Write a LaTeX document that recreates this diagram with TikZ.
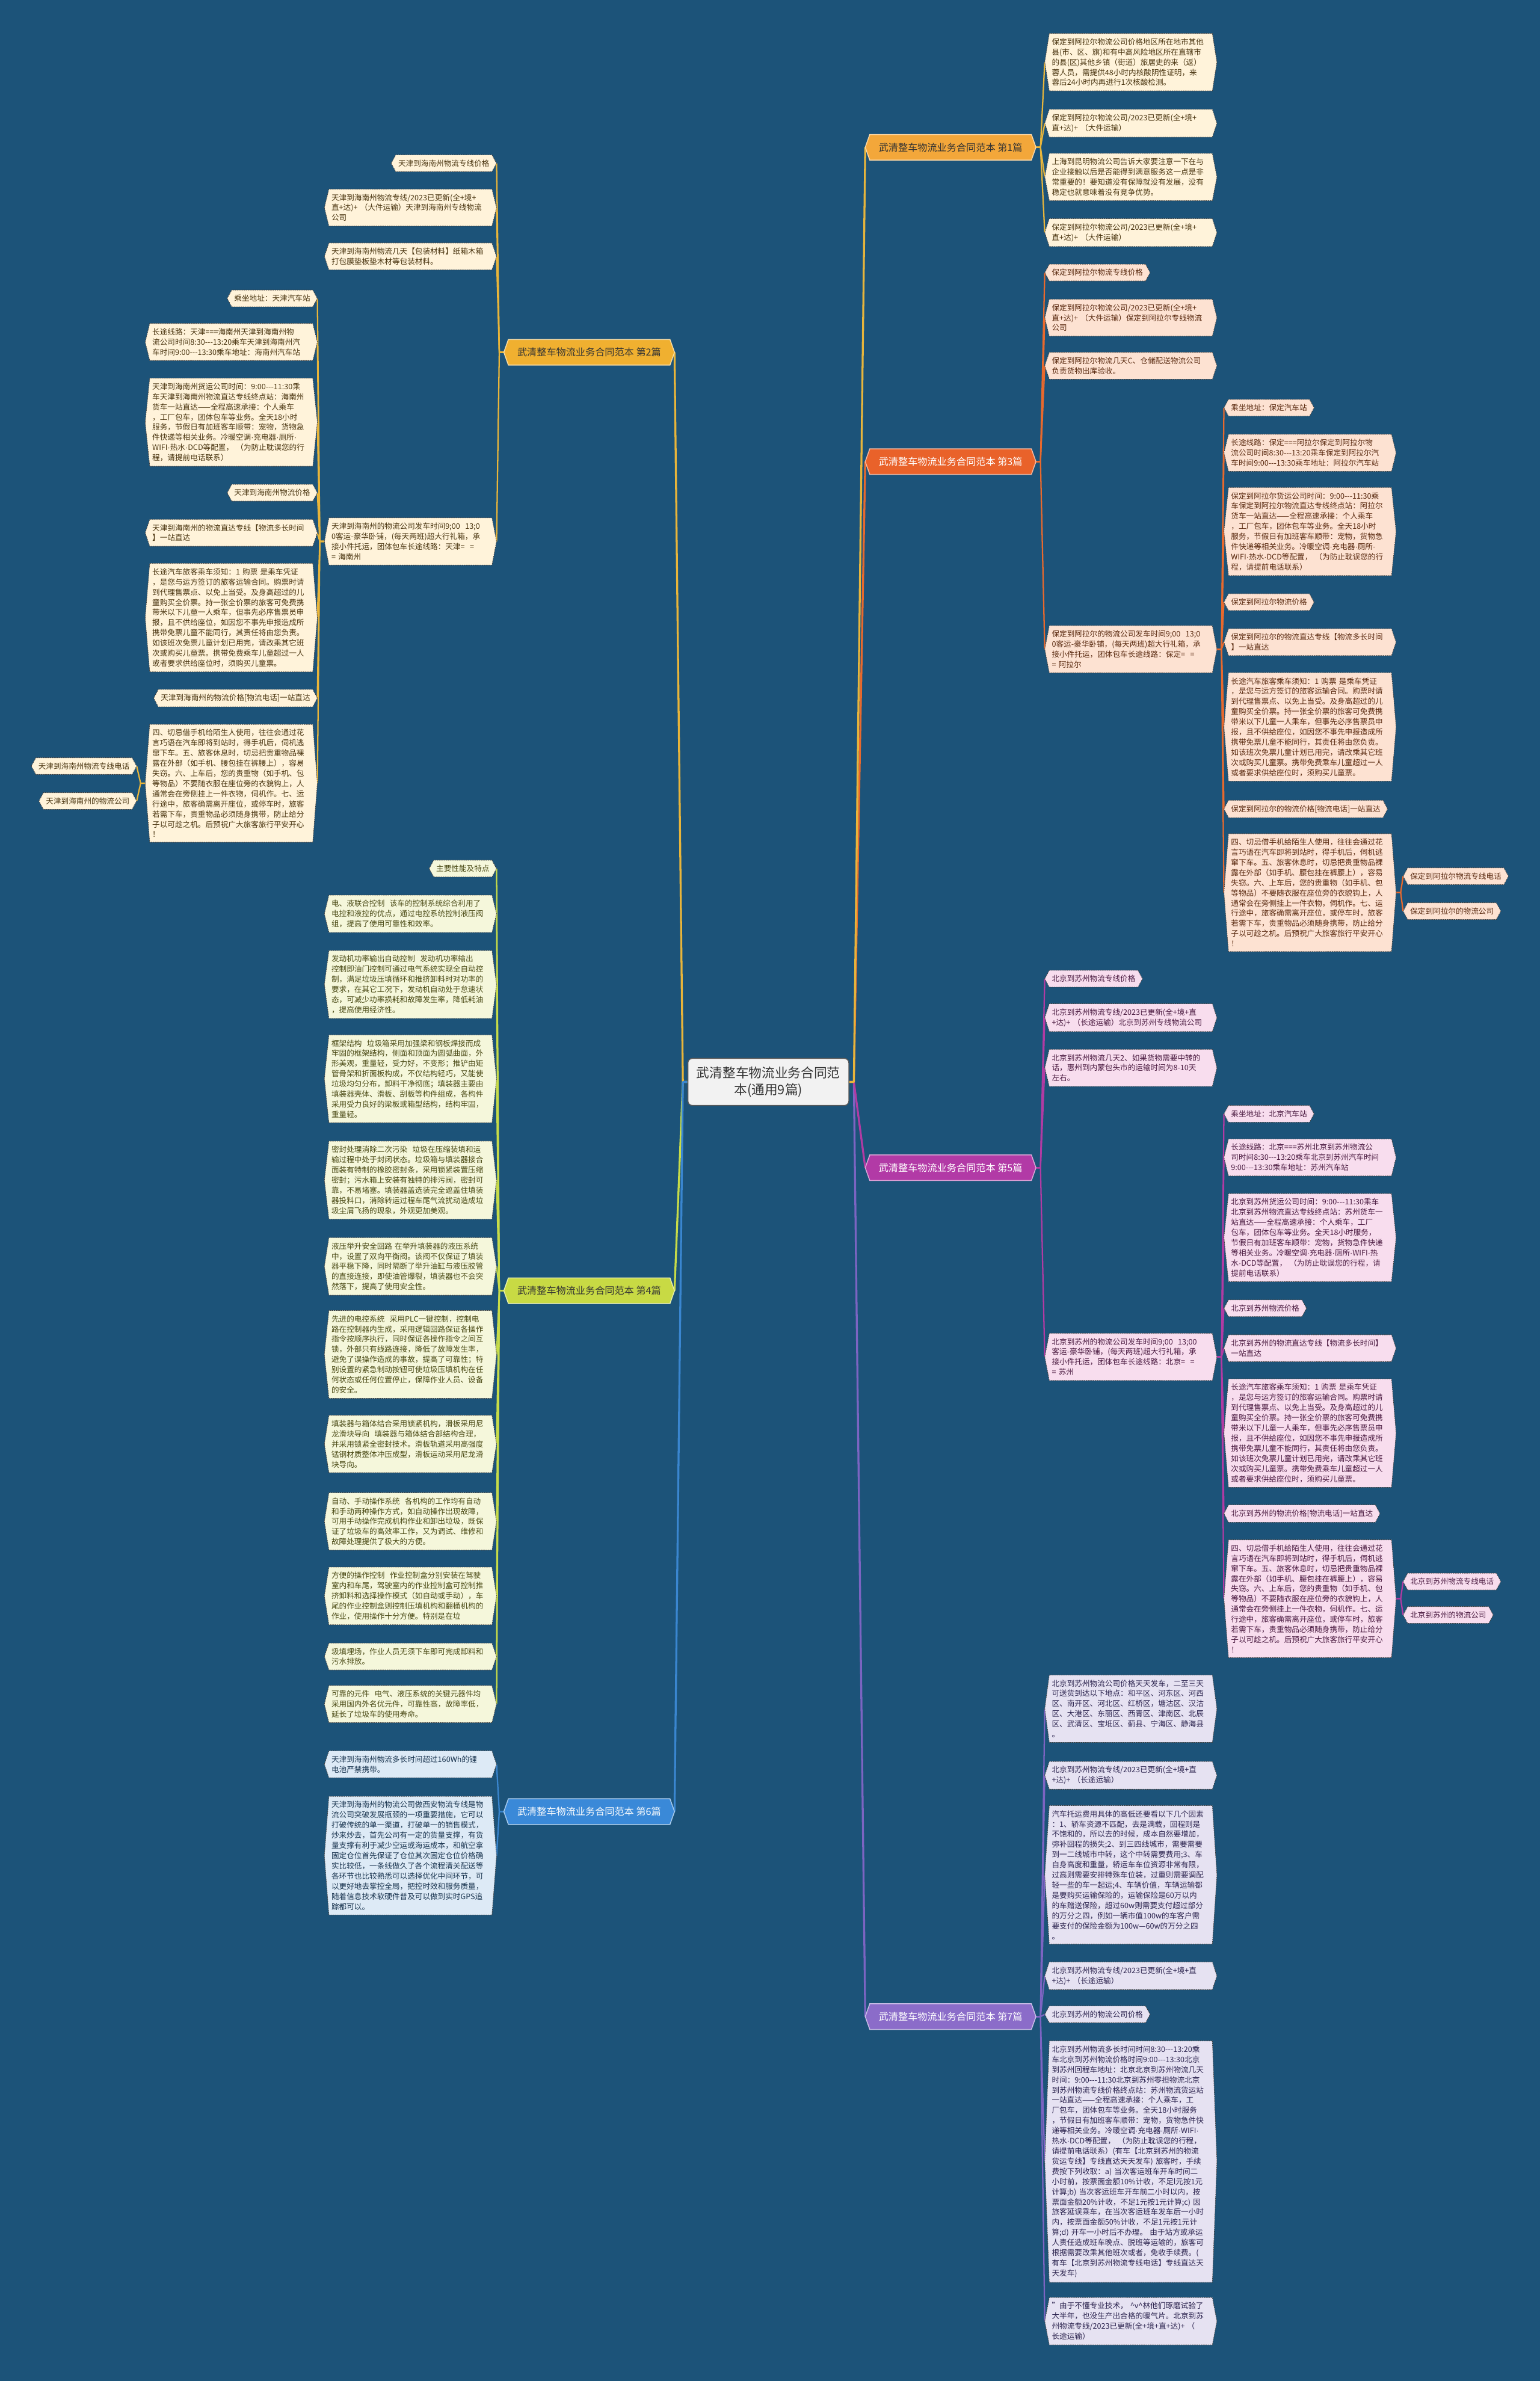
\documentclass[tikz,border=0pt]{standalone}
\usepackage{fontspec}
\setmainfont{Noto Sans CJK SC}
\newfontfamily\lat{Liberation Sans}
\usetikzlibrary{calc}
\pgfdeclarelayer{back}
\pgfdeclarelayer{bg}
\pgfdeclarelayer{box}
\pgfsetlayers{back,bg,box,main}
\hbadness=10000 \hfuzz=50pt
\definecolor{bgc}{HTML}{1C5379}
\definecolor{br1}{HTML}{F3A73A}\definecolor{br2}{HTML}{F0B030}\definecolor{br3}{HTML}{E9622A}
\definecolor{br4}{HTML}{C8DA44}\definecolor{br5}{HTML}{B23AA6}\definecolor{br6}{HTML}{3A89D8}\definecolor{br7}{HTML}{8B6CC9}
\definecolor{ln1}{HTML}{E7B53C}\definecolor{ln2}{HTML}{E9B53A}\definecolor{ln3}{HTML}{E8692D}
\definecolor{ln4}{HTML}{C8DC48}\definecolor{ln5}{HTML}{B13BA3}\definecolor{ln6}{HTML}{3A86D0}\definecolor{ln7}{HTML}{7C64C2}
\definecolor{f1}{HTML}{FFF3DA}\definecolor{f2}{HTML}{FFF3DA}\definecolor{f3}{HTML}{FDE2D2}
\definecolor{f4}{HTML}{F5F7DB}\definecolor{f5}{HTML}{F8DDEE}\definecolor{f6}{HTML}{DDEAF6}\definecolor{f7}{HTML}{E6E2F2}
\definecolor{t1}{HTML}{4A3510}\definecolor{t2}{HTML}{4A3510}\definecolor{t3}{HTML}{5A2A10}
\definecolor{t4}{HTML}{4A4A15}\definecolor{t5}{HTML}{4A1A40}\definecolor{t6}{HTML}{1A3550}\definecolor{t7}{HTML}{2D2550}
\newcommand\dd{-{}-{}-}
\newcommand\md{{\lat ·}}
\newcommand\hexp[2]{([xshift=-#2]#1.west) -- (#1.north west) -- (#1.north east) -- ([xshift=#2]#1.east) -- (#1.south east) -- (#1.south west) -- cycle}
\def\cf{f1}
\tikzset{
  lf/.style={font=\fontsize{5}{6.7}\selectfont, inner xsep=1.5pt, inner ysep=3pt, align=left},
  wd/.style={text width=104pt},
  L/.style={anchor=north east},
  R/.style={anchor=north west},
  tc/.style={text=t1},
  bd/.style={draw=black!75, line width=0.35pt, dash pattern=on 0.7pt off 0.5pt},
  bn/.style={font=\fontsize{6.4}{8}\selectfont, minimum width=106pt, minimum height=16.5pt, inner xsep=2pt, inner ysep=2pt, align=center},
  cnode/.style={font=\fontsize{8.6}{11}\selectfont, fill=white!95!black, draw=black!65, line width=0.6pt, rounded corners=3pt, text width=100pt, align=center, minimum height=31pt, inner sep=3pt, text=black!80},
}
\newcommand\leaf[4]{%
  \node[lf,tc,#1] (#2) at (#3) {#4};
  \begin{pgfonlayer}{box}\path[fill=\cf,bd] \hexp{#2}{3pt};\end{pgfonlayer}}
\newcommand\bnode[5]{%
  \node[bn,text=#4] (#1) at (#2) {#5};
  \begin{pgfonlayer}{box}\path[fill=#3,draw=white!55!#3,line width=0.6pt] \hexp{#1}{3pt};\end{pgfonlayer}}
\newcommand\conL[3]{\begin{pgfonlayer}{bg}\draw[#3,line width=0.9pt,line join=round] ([xshift=-3pt]#1.west) -- ++(-3pt,0) -- ([xshift=3pt]#2.east);\end{pgfonlayer}}
\newcommand\conR[3]{\begin{pgfonlayer}{bg}\draw[#3,line width=0.9pt,line join=round] ([xshift=3pt]#1.east) -- ++(3pt,0) -- ([xshift=-3pt]#2.west);\end{pgfonlayer}}
\newcommand\XZ{长途汽车旅客乘车须知：1~购票~是乘车凭证\\，是您与运方签订的旅客运输合同。购票时请\\到代理售票点、以免上当受。及身高超过的儿\\童购买全价票。持一张全价票的旅客可免费携\\带米以下儿童一人乘车，但事先必序售票员申\\报，且不供给座位，如因您不事先申报造成所\\携带免票儿童不能同行，其责任将由您负责。\\如该班次免票儿童计划已用完，请改乘其它班\\次或购买儿童票。携带免费乘车儿童超过一人\\或者要求供给座位时，须购买儿童票。}
\newcommand\QJ{四、切忌借手机给陌生人使用，往往会通过花\\言巧语在汽车即将到站时，得手机后，伺机逃\\窜下车。五、旅客休息时，切忌把贵重物品裸\\露在外部（如手机、腰包挂在裤腰上），容易\\失窃。六、上车后，您的贵重物（如手机、包\\等物品）不要随衣服在座位旁的衣貌钩上，人\\通常会在旁侧挂上一件衣物，伺机作。七、运\\行途中，旅客确需离开座位，或停车时，旅客\\若需下车，贵重物品必须随身携带，防止给分\\子以可趁之机。后预祝广大旅客旅行平安开心\\！}
\begin{document}
\begin{tikzpicture}[x=1pt,y=-1pt]
\begin{pgfonlayer}{back}
\fill[bgc] (0,0) rectangle (1014,1568);
\end{pgfonlayer}
\useasboundingbox (0,0) rectangle (1014,1568);
% center
\node[cnode] (c) at (506,712.5) {武清整车物流业务合同范\\本(通用9篇)};
% branch nodes
\bnode{n1}{626,97}{br1}{black!80}{武清整车物流业务合同范本~第1篇}
\bnode{n3}{626,304}{br3}{white}{武清整车物流业务合同范本~第3篇}
\bnode{n5}{626,769}{br5}{white}{武清整车物流业务合同范本~第5篇}
\bnode{n7}{626,1328}{br7}{white}{武清整车物流业务合同范本~第7篇}
\bnode{n2}{388,232}{br2}{black!80}{武清整车物流业务合同范本~第2篇}
\bnode{n4}{388,850}{br4}{black!80}{武清整车物流业务合同范本~第4篇}
\bnode{n6}{388,1193}{br6}{white}{武清整车物流业务合同范本~第6篇}
\begin{pgfonlayer}{bg}
\foreach \n/\col in {n2/ln2,n4/ln4,n6/ln6}{\draw[\col,line width=1.3pt,line join=round] (c.west) -- ++(-3pt,0) -- ([xshift=3pt]\n.east);}
\foreach \n/\col in {n7/ln7,n5/ln5,n3/ln3,n1/ln1}{\draw[\col,line width=1.3pt,line join=round] (c.east) -- ++(3pt,0) -- ([xshift=-3pt]\n.west);}
\end{pgfonlayer}
% ===== branch 1 =====
\def\cf{f1}\tikzset{tc/.style={text=t1}}
\leaf{R,wd}{l1a}{691,22}{保定到阿拉尔物流公司价格地区所在地市其他\\县(市、区、旗)和有中高风险地区所在直辖市\\的县(区)其他乡镇（街道）旅居史的来（返）\\蓉人员，需提供48小时内核酸阴性证明，来\\蓉后24小时内再进行1次核酸检测。}
\leaf{R,wd}{l1b}{691,72}{保定到阿拉尔物流公司/2023已更新(全+境+\\直+达)+~（大件运输）}
\leaf{R,wd}{l1c}{691,101}{上海到昆明物流公司告诉大家要注意一下在与\\企业接触以后是否能得到满意服务这一点是非\\常重要的！要知道没有保障就没有发展，没有\\稳定也就意味着没有竞争优势。}
\leaf{R,wd}{l1d}{691,144}{保定到阿拉尔物流公司/2023已更新(全+境+\\直+达)+~（大件运输）}
\foreach \k in {l1a,l1b,l1c,l1d}{\conR{n1}{\k}{ln1}}
% ===== branch 3 =====
\def\cf{f3}\tikzset{tc/.style={text=t3}}
\leaf{R}{f1n}{691,174}{保定到阿拉尔物流专线价格}
\leaf{R,wd}{f2n}{691,197}{保定到阿拉尔物流公司/2023已更新(全+境+\\直+达)+~（大件运输）保定到阿拉尔专线物流\\公司}
\leaf{R,wd}{f3n}{691,232}{保定到阿拉尔物流几天C、仓储配送物流公司\\负责货物出库验收。}
\leaf{R,wd}{f4n}{691,412}{保定到阿拉尔的物流公司发车时间9;00~~13;0\\0客运-豪华卧铺，(每天两班)超大行礼箱，承\\接小件托运，团体包车长途线路：保定=~~=\\=~阿拉尔}
\foreach \k in {f1n,f2n,f3n,f4n}{\conR{n3}{\k}{ln3}}
\leaf{R}{g1}{809,263}{乘坐地址：保定汽车站}
\leaf{R,wd}{g2}{809,286}{长途线路：保定===阿拉尔保定到阿拉尔物\\流公司时间8:30\dd13:20乘车保定到阿拉尔汽\\车时间9:00\dd13:30乘车地址：阿拉尔汽车站}
\leaf{R,wd}{g3}{809,321}{保定到阿拉尔货运公司时间：9:00\dd11:30乘\\车保定到阿拉尔物流直达专线终点站：阿拉尔\\货车一站直达——全程高速承接：个人乘车\\，工厂包车，团体包车等业务。全天18小时\\服务，节假日有加班客车顺带：宠物，货物急\\件快递等相关业务。冷暖空调\md{}充电器\md{}厕所\md{}\\WIFI\md{}热水\md{}DCD等配置，~（为防止耽误您的行\\程，请提前电话联系）}
\leaf{R}{g4}{809,391}{保定到阿拉尔物流价格}
\leaf{R,wd}{g5}{809,414}{保定到阿拉尔的物流直达专线【物流多长时间\\】一站直达}
\leaf{R,wd}{g6}{809,443}{\XZ}
\leaf{R}{g7}{809,527}{保定到阿拉尔的物流价格[物流电话]一站直达}
\leaf{R,wd}{g8}{809,549}{\QJ}
\foreach \k in {g1,g2,g3,g4,g5,g6,g7,g8}{\conR{f4n}{\k}{ln3}}
\leaf{R}{h1}{927,571.5}{保定到阿拉尔物流专线电话}
\leaf{R}{h2}{927,594.5}{保定到阿拉尔的物流公司}
\foreach \k in {h1,h2}{\conR{g8}{\k}{ln3}}
% ===== branch 5 =====
\def\cf{f5}\tikzset{tc/.style={text=t5}}
\leaf{R}{i1}{691,639}{北京到苏州物流专线价格}
\leaf{R,wd}{i2}{691,661}{北京到苏州物流专线/2023已更新(全+境+直\\+达)+~（长途运输）北京到苏州专线物流公司}
\leaf{R,wd}{i3}{691,691}{北京到苏州物流几天2、如果货物需要中转的\\话，惠州到内蒙包头市的运输时间为8-10天\\左右。}
\leaf{R,wd}{i4}{691,878}{北京到苏州的物流公司发车时间9;00~~13;00\\客运-豪华卧铺，(每天两班)超大行礼箱，承\\接小件托运，团体包车长途线路：北京=~~=\\=~苏州}
\foreach \k in {i1,i2,i3,i4}{\conR{n5}{\k}{ln5}}
\leaf{R}{j1}{809,728}{乘坐地址：北京汽车站}
\leaf{R,wd}{j2}{809,750}{长途线路：北京===苏州北京到苏州物流公\\司时间8:30\dd13:20乘车北京到苏州汽车时间\\9:00\dd13:30乘车地址：苏州汽车站}
\leaf{R,wd}{j3}{809,786}{北京到苏州货运公司时间：9:00\dd11:30乘车\\北京到苏州物流直达专线终点站：苏州货车一\\站直达——全程高速承接：个人乘车，工厂\\包车，团体包车等业务。全天18小时服务，\\节假日有加班客车顺带：宠物，货物急件快递\\等相关业务。冷暖空调\md{}充电器\md{}厕所\md{}WIFI\md{}热\\水\md{}DCD等配置，~（为防止耽误您的行程，请\\提前电话联系）}
\leaf{R}{j4}{809,856}{北京到苏州物流价格}
\leaf{R,wd}{j5}{809,879}{北京到苏州的物流直达专线【物流多长时间】\\一站直达}
\leaf{R,wd}{j6}{809,908}{\XZ}
\leaf{R}{j7}{809,991}{北京到苏州的物流价格[物流电话]一站直达}
\leaf{R,wd}{j8}{809,1014}{\QJ}
\foreach \k in {j1,j2,j3,j4,j5,j6,j7,j8}{\conR{i4}{\k}{ln5}}
\leaf{R}{k1}{927,1036}{北京到苏州物流专线电话}
\leaf{R}{k2}{927,1058}{北京到苏州的物流公司}
\foreach \k in {k1,k2}{\conR{j8}{\k}{ln5}}
% ===== branch 7 =====
\def\cf{f7}\tikzset{tc/.style={text=t7}}
\leaf{R,wd}{m1}{691,1103}{北京到苏州物流公司价格天天发车，二至三天\\可送货到达以下地点：和平区、河东区、河西\\区、南开区、河北区、红桥区，塘沽区、汉沽\\区、大港区、东丽区、西青区、津南区、北辰\\区、武清区、宝坻区、蓟县、宁海区、静海县\\。}
\leaf{R,wd}{m2}{691,1160}{北京到苏州物流专线/2023已更新(全+境+直\\+达)+~（长途运输）}
\leaf{R,wd}{m3}{691,1189}{汽车托运费用具体的高低还要看以下几个因素\\：1、轿车资源不匹配，去是满载，回程则是\\不饱和的，所以去的时候，成本自然要增加，\\弥补回程的损失;2、到三四线城市，需要需要\\到一二线城市中转，这个中转需要费用;3、车\\自身高度和重量，轿运车车位资源非常有限，\\过高则需要安排特殊车位装，过重则需要调配\\轻一些的车一起运;4、车辆价值，车辆运输都\\是要购买运输保险的，运输保险是60万以内\\的车赠送保险，超过60w则需要支付超过部分\\的万分之四，例如一辆市值100w的车客户需\\要支付的保险金额为100w—60w的万分之四\\。}
\leaf{R,wd}{m4}{691,1292}{北京到苏州物流专线/2023已更新(全+境+直\\+达)+~（长途运输）}
\leaf{R}{m5}{691,1321}{北京到苏州的物流公司价格}
\leaf{R,wd}{m6}{691,1344}{北京到苏州物流多长时间时间8:30\dd13:20乘\\车北京到苏州物流价格时间9:00\dd13:30北京\\到苏州回程车地址：北京北京到苏州物流几天\\时间：9:00\dd11:30北京到苏州零担物流北京\\到苏州物流专线价格终点站：苏州物流货运站\\一站直达——全程高速承接：个人乘车，工\\厂包车，团体包车等业务。全天18小时服务\\，节假日有加班客车顺带：宠物，货物急件快\\递等相关业务。冷暖空调\md{}充电器\md{}厕所\md{}WIFI\md{}\\热水\md{}DCD等配置，~（为防止耽误您的行程，\\请提前电话联系）(有车【北京到苏州的物流\\货运专线】专线直达天天发车)~旅客时，手续\\费按下列收取：a)~当次客运班车开车时间二\\小时前，按票面金额10\%计收，不足l元按1元\\计算;b)~当次客运班车开车前二小时以内，按\\票面金额20\%计收，不足1元按1元计算;c)~因\\旅客延误乘车，在当次客运班车发车后一小时\\内，按票面金额50\%计收，不足1元按1元计\\算;d)~开车一小时后不办理。~由于站方或承运\\人责任造成班车晚点、脱班等运输的，旅客可\\根据需要改乘其他班次或者，免收手续费。(\\有车【北京到苏州物流专线电话】专线直达天\\天发车)}
\leaf{R,wd}{m7}{691,1513}{"由于不懂专业技术，~\textasciicircum v\textasciicircum 林他们琢磨试验了\\大半年，也没生产出合格的暖气片。北京到苏\\州物流专线/2023已更新(全+境+直+达)+~（\\长途运输）}
\foreach \k in {m1,m2,m3,m4,m5,m6,m7}{\conR{n7}{\k}{ln7}}
% ===== branch 2 =====
\def\cf{f2}\tikzset{tc/.style={text=t2}}
\leaf{L}{a1}{324,102}{天津到海南州物流专线价格}
\leaf{L,wd}{a2}{324,124.5}{天津到海南州物流专线/2023已更新(全+境+\\直+达)+~（大件运输）天津到海南州专线物流\\公司}
\leaf{L,wd}{a3}{324,160}{天津到海南州物流几天【包装材料】纸箱木箱\\打包膜垫板垫木材等包装材料。}
\leaf{L,wd}{a4}{324,341}{天津到海南州的物流公司发车时间9;00~~13;0\\0客运-豪华卧铺，(每天两班)超大行礼箱，承\\接小件托运，团体包车长途线路：天津=~~=\\=~海南州}
\foreach \k in {a1,a2,a3,a4}{\conL{n2}{\k}{ln2}}
\leaf{L}{b1}{206,191}{乘坐地址：天津汽车站}
\leaf{L,wd}{b2}{206,213}{长途线路：天津===海南州天津到海南州物\\流公司时间8:30\dd13:20乘车天津到海南州汽\\车时间9:00\dd13:30乘车地址：海南州汽车站}
\leaf{L,wd}{b3}{206,249}{天津到海南州货运公司时间：9:00\dd11:30乘\\车天津到海南州物流直达专线终点站：海南州\\货车一站直达——全程高速承接：个人乘车\\，工厂包车，团体包车等业务。全天18小时\\服务，节假日有加班客车顺带：宠物，货物急\\件快递等相关业务。冷暖空调\md{}充电器\md{}厕所\md{}\\WIFI\md{}热水\md{}DCD等配置，~（为防止耽误您的行\\程，请提前电话联系）}
\leaf{L}{b4}{206,319}{天津到海南州物流价格}
\leaf{L,wd}{b5}{206,342}{天津到海南州的物流直达专线【物流多长时间\\】一站直达}
\leaf{L,wd}{b6}{206,371}{\XZ}
\leaf{L}{b7}{206,454}{天津到海南州的物流价格[物流电话]一站直达}
\leaf{L,wd}{b8}{206,477}{\QJ}
\foreach \k in {b1,b2,b3,b4,b5,b6,b7,b8}{\conL{a4}{\k}{ln2}}
\leaf{L}{c1}{87,499}{天津到海南州物流专线电话}
\leaf{L}{c2}{87,522}{天津到海南州的物流公司}
\foreach \k in {c1,c2}{\conL{b8}{\k}{ln2}}
% ===== branch 4 =====
\def\cf{f4}\tikzset{tc/.style={text=t4}}
\leaf{L}{d1}{324,566.5}{主要性能及特点}
\leaf{L,wd}{d2}{324,589.5}{电、液联合控制~~该车的控制系统综合利用了\\电控和液控的优点，通过电控系统控制液压阀\\组，提高了使用可靠性和效率。}
\leaf{L,wd}{d3}{324,626}{发动机功率输出自动控制~~发动机功率输出\\控制即油门控制可通过电气系统实现全自动控\\制，满足垃圾压填循环和推挤卸料时对功率的\\要求，在其它工况下，发动机自动处于怠速状\\态，可减少功率损耗和故障发生率，降低耗油\\，提高使用经济性。}
\leaf{L,wd}{d4}{324,681.5}{框架结构~~垃圾箱采用加强梁和钢板焊接而成\\牢固的框架结构，侧面和顶面为圆弧曲面，外\\形美观，重量轻，受力好，不变形；推铲由矩\\管骨架和折面板构成，不仅结构轻巧，又能使\\垃圾均匀分布，卸料干净彻底；填装器主要由\\填装器壳体、滑板、刮板等构件组成，各构件\\采用受力良好的梁板或箱型结构，结构牢固，\\重量轻。}
\leaf{L,wd}{d5}{324,751.5}{密封处理消除二次污染~~垃圾在压缩装填和运\\输过程中处于封闭状态。垃圾箱与填装器接合\\面装有特制的橡胶密封条，采用锁紧装置压缩\\密封；污水箱上安装有独特的排污阀，密封可\\靠，不易堵塞。填装器盖选装完全遮盖住填装\\器投料口，消除转运过程车尾气流扰动造成垃\\圾尘屑飞扬的现象，外观更加美观。}
\leaf{L,wd}{d6}{324,815}{液压举升安全回路~在举升填装器的液压系统\\中，设置了双向平衡阀。该阀不仅保证了填装\\器平稳下降，同时隔断了举升油缸与液压胶管\\的直接连接，即使油管爆裂，填装器也不会突\\然落下，提高了使用安全性。}
\leaf{L,wd}{d7}{324,863}{先进的电控系统~~采用PLC一键控制，控制电\\路在控制器内生成，采用逻辑回路保证各操作\\指令按顺序执行，同时保证各操作指令之间互\\锁，外部只有线路连接，降低了故障发生率，\\避免了误操作造成的事故，提高了可靠性；特\\别设置的紧急制动按钮可使垃圾压填机构在任\\何状态或任何位置停止，保障作业人员、设备\\的安全。}
\leaf{L,wd}{d8}{324,932}{填装器与箱体结合采用锁紧机构，滑板采用尼\\龙滑块导向~~填装器与箱体结合部结构合理，\\并采用锁紧全密封技术。滑板轨道采用高强度\\锰钢材质整体冲压成型，滑板运动采用尼龙滑\\块导向。}
\leaf{L,wd}{d9}{324,983}{自动、手动操作系统~~各机构的工作均有自动\\和手动两种操作方式，如自动操作出现故障，\\可用手动操作完成机构作业和卸出垃圾，既保\\证了垃圾车的高效率工作，又为调试、维修和\\故障处理提供了极大的方便。}
\leaf{L,wd}{d10}{324,1032}{方便的操作控制~~作业控制盒分别安装在驾驶\\室内和车尾，驾驶室内的作业控制盒可控制推\\挤卸料和选择操作模式（如自动或手动），车\\尾的作业控制盒则控制压填机构和翻桶机构的\\作业，使用操作十分方便。特别是在垃}
\leaf{L,wd}{d11}{324,1082}{圾填埋场，作业人员无须下车即可完成卸料和\\污水排放。}
\leaf{L,wd}{d12}{324,1110}{可靠的元件~~电气、液压系统的关键元器件均\\采用国内外名优元件，可靠性高，故障率低，\\延长了垃圾车的使用寿命。}
\foreach \k in {d1,d2,d3,d4,d5,d6,d7,d8,d9,d10,d11,d12}{\conL{n4}{\k}{ln4}}
% ===== branch 6 =====
\def\cf{f6}\tikzset{tc/.style={text=t6}}
\leaf{L,wd}{e1}{324,1153}{天津到海南州物流多长时间超过160Wh的锂\\电池严禁携带。}
\leaf{L,wd}{e2}{324,1183}{天津到海南州的物流公司做西安物流专线是物\\流公司突破发展瓶颈的一项重要措施，它可以\\打破传统的单一渠道，打破单一的销售模式，\\炒来炒去，首先公司有一定的货量支撑，有货\\量支撑有利于减少空运或海运成本，和航空拿\\固定仓位首先保证了仓位其次固定仓位价格确\\实比较低，一条线做久了各个流程清关配送等\\各环节也比较熟悉可以选择优化中间环节，可\\以更好地去掌控全局，把控时效和服务质量，\\随着信息技术软硬件普及可以做到实时GPS追\\踪都可以。}
\foreach \k in {e1,e2}{\conL{n6}{\k}{ln6}}
\end{tikzpicture}
\end{document}
